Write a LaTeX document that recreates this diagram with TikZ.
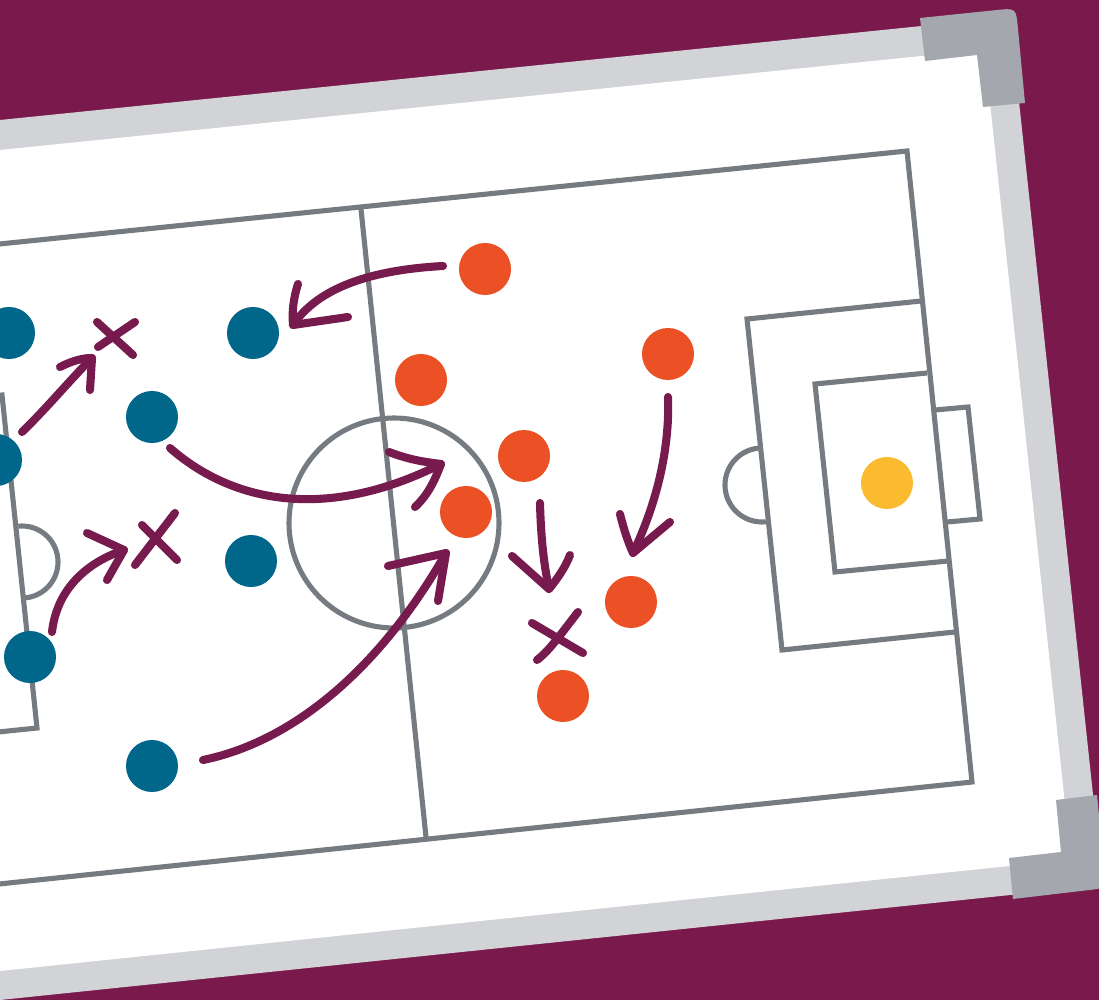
\documentclass[tikz,border=0pt]{standalone}
\usetikzlibrary{calc}
\definecolor{bgmaroon}{HTML}{7A1A4C}
\definecolor{framegray}{HTML}{D1D3D7}
\definecolor{cornergray}{HTML}{A4A7AD}
\definecolor{linegray}{HTML}{767B81}
\definecolor{teamblue}{HTML}{00668A}
\definecolor{teamorange}{HTML}{EB5125}
\definecolor{keeperyellow}{HTML}{FBBB30}
\definecolor{arrowmaroon}{HTML}{771A4D}
\tikzset{
  pitchline/.style={draw=linegray,line width=1.45pt,line join=miter},
  move/.style={draw=arrowmaroon,line width=2.3pt,line cap=round,line join=round},
  bluedot/.style={circle,fill=teamblue,inner sep=0pt,minimum size=0.52cm},
  orangedot/.style={circle,fill=teamorange,inner sep=0pt,minimum size=0.52cm},
  keeperdot/.style={circle,fill=keeperyellow,inner sep=0pt,minimum size=0.52cm},
}
\begin{document}
\begin{tikzpicture}[x=0.01cm,y=-0.01cm]
\useasboundingbox (0,0) rectangle (1099,1000);
\clip (0,0) rectangle (1099,1000);
% background
\fill[bgmaroon] (-5,-5) rectangle (1105,1005);
% frame
\fill[framegray] (-100,130.2) -- (1010,17) -- (1102.7,885.4) -- (-100,1010.4) -- cycle;
\fill[white] (-100,160.2) -- (984.3,49.6) -- (1070.9,859.6) -- (-100,981.4) -- cycle;
% pitch outline
\draw[pitchline] (-20,246) -- (907,151) -- (972,782) -- (-20,886);
\draw[pitchline] (361,209) -- (426,837);
\draw[pitchline] (394,523) circle[radius=105];
% left penalty box
\draw[pitchline] (-60,401) -- (2,395) -- (37,728) -- (-60,738);
\draw[pitchline] (22,562) ++(-95.9:36) arc[start angle=-95.9,end angle=84.1,radius=36];
% right penalty box
\draw[pitchline] (921,301) -- (747,319) -- (782,650) -- (955,632);
\draw[pitchline] (927,373) -- (815,384) -- (835,572) -- (948,561);
\draw[pitchline] (935,410) -- (968,407) -- (980,519) -- (947,522);
\draw[pitchline] (762,485) ++(84.1:37) arc[start angle=84.1,end angle=264.1,radius=37];
% players
\node[bluedot] (b1) at (9,333) {};
\node[bluedot] (b2) at (253,333) {};
\node[bluedot] (b3) at (152,417) {};
\node[bluedot] (b4) at (-4,460) {};
\node[bluedot] (b5) at (251,561) {};
\node[bluedot] (b6) at (30,657) {};
\node[bluedot] (b7) at (152,766) {};
\node[orangedot] (o1) at (485,269) {};
\node[orangedot] (o2) at (421,380) {};
\node[orangedot] (o3) at (524,456) {};
\node[orangedot] (o4) at (466,512) {};
\node[orangedot] (o5) at (668,354) {};
\node[orangedot] (o6) at (631,602) {};
\node[orangedot] (o7) at (563,696) {};
\node[keeperdot] (gk) at (887,483) {};
% arrow A (from o1 towards b2)
\coordinate (aS) at (443,266);
\coordinate (aT) at (293,325);
\draw[move] (aS) .. controls (370,270) and (318,288) .. (aT);
\draw[move] (298,284) .. controls (293,300) and (292,312) .. (aT) -- (348,317);
% arrow B (from b3 into circle)
\coordinate (bS) at (170,448);
\coordinate (bT) at (441,464);
\draw[move] (bS) .. controls (235,505) and (330,520) .. (bT);
\draw[move] (389,452) .. controls (410,460) and (425,462) .. (bT) .. controls (435,480) and (428,495) .. (415,507);
% arrow C (from b7 to centre)
\coordinate (cS) at (203,760);
\coordinate (cT) at (446,553);
\draw[move] (cS) .. controls (300,740) and (385,660) .. (cT);
\draw[move] (388,566) -- (cT) -- (438,601);
% arrow D (from b4 to X1)
\coordinate (dS) at (22,432);
\coordinate (dT) at (92,358);
\draw[move] (dS) .. controls (45,410) and (70,380) .. (dT);
\draw[move] (60,367) .. controls (72,361) and (82,358) .. (dT) -- (90,390);
% X1
\draw[move] (97,322) -- (133,355);
\draw[move] (135,322) -- (98,347);
% arrow E (from b6 to X2)
\coordinate (eS) at (52,632);
\coordinate (eT) at (124,550);
\draw[move] (eS) .. controls (57,588) and (88,562) .. (eT);
\draw[move] (87,533) -- (eT) -- (107,580);
% X2
\draw[move] (142,525) -- (177,560);
\draw[move] (175,513) -- (135,565);
% arrow F
\coordinate (fS) at (540,503);
\coordinate (fT) at (549,589);
\draw[move] (fS) .. controls (541,540) and (544,565) .. (fT);
\draw[move] (512,556) -- (fT) .. controls (558,578) and (566,566) .. (570,555);
% X3
\draw[move] (532,623) -- (583,653);
\draw[move] (578,612) .. controls (560,635) and (550,650) .. (537,660);
% arrow G
\coordinate (gS) at (668,397);
\coordinate (gT) at (633,553);
\draw[move] (gS) .. controls (670,450) and (656,505) .. (gT);
\draw[move] (620,514) .. controls (624,530) and (628,542) .. (gT) -- (670,522);
% corner pieces
\fill[cornergray] (920,18) -- (996.1,10.1) .. controls (1016,8) .. (1017.9,27.9) -- (1025,103) -- (983,107) -- (977,55) -- (925,61) -- cycle;
\fill[cornergray] (1056,800) -- (1097,795) -- (1104.6,873.1) .. controls (1106,888) .. (1091.1,889.8) -- (1013,899) -- (1009,858) -- (1061,852) -- cycle;
\end{tikzpicture}
\end{document}
